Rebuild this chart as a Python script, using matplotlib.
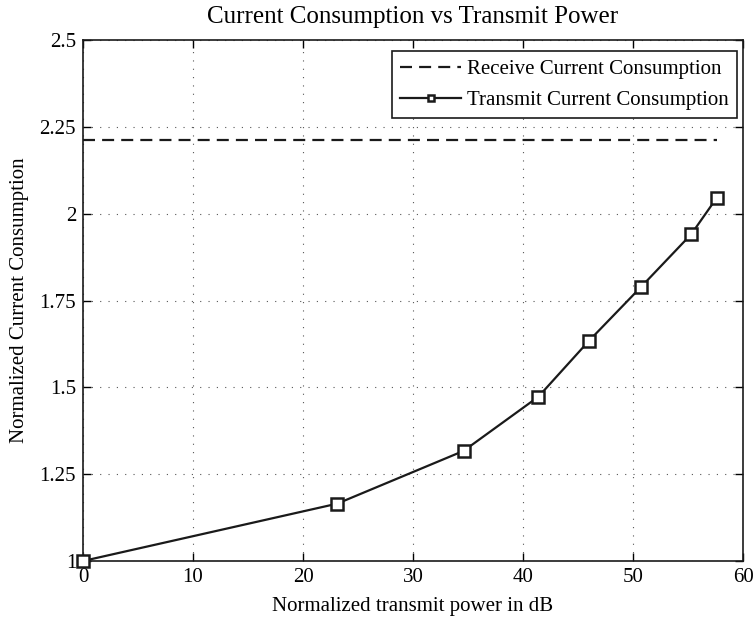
import numpy as np
import matplotlib.pyplot as plt

# Normalized transmit power (dB) and normalized current consumption
tx_power_db = [0, 23.1, 34.6, 41.4, 46.0, 50.7, 55.3, 57.6]
tx_current = [1.0, 1.165, 1.317, 1.473, 1.634, 1.788, 1.941, 2.045]
rx_current = 2.213

plt.rcParams['font.family'] = ['Liberation Serif', 'DejaVu Serif']
plt.rcParams['font.size'] = 15

fig = plt.figure(figsize=(7.55, 6.21), dpi=100)
ax = fig.add_axes([83 / 755, 1 - 561 / 621, 660 / 755, 521 / 621])

ax.plot([0, max(tx_power_db)], [rx_current, rx_current], color='#1a1a1a',
        linestyle=(0, (5.4, 3.2)), linewidth=1.6, label='Receive Current Consumption')
ax.plot(tx_power_db, tx_current, color='#1a1a1a', linewidth=1.6, marker='s',
        markersize=8, markerfacecolor='white', markeredgecolor='#1a1a1a',
        markeredgewidth=1.8, label='Transmit Current Consumption', clip_on=False,
        zorder=5)

ax.set_xlim(0, 60)
ax.set_ylim(1, 2.5)
ax.set_xticks(np.arange(0, 61, 10))
ax.set_yticks([1, 1.25, 1.5, 1.75, 2, 2.25, 2.5])
ax.set_yticklabels(['1', '1.25', '1.5', '1.75', '2', '2.25', '2.5'])
ax.tick_params(direction='in', length=6, width=1, top=True, right=True)
ax.tick_params(axis='x', pad=5)
ax.tick_params(axis='y', pad=5)
ax.grid(True, color='#555555', linestyle=(0, (1, 6.5)), linewidth=0.8)
for s in ax.spines.values():
    s.set_linewidth(1.2)
    s.set_color('#1a1a1a')

ax.set_title('Current Consumption vs Transmit Power', pad=12)
ax.set_xlabel('Normalized transmit power in dB', labelpad=7)
ax.set_ylabel('Normalized Current Consumption')
ax.yaxis.set_label_coords(-0.082, 0.5)

leg = ax.legend(loc='upper right', bbox_to_anchor=(0.991, 0.979),
                fancybox=False, framealpha=1, edgecolor='#1a1a1a',
                borderaxespad=0, handlelength=2.9, handletextpad=0.3,
                borderpad=0.4, labelspacing=0.55, markerscale=0.6)
leg.get_frame().set_linewidth(1.2)

fig.savefig('out.png', dpi=100)
